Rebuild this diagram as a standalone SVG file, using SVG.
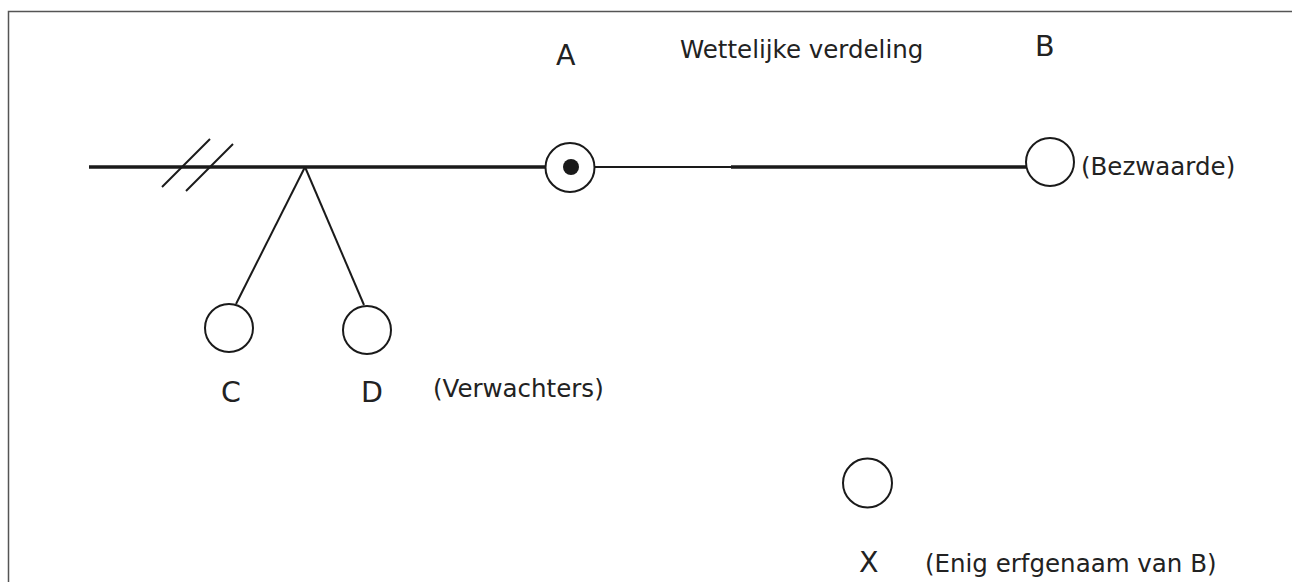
<svg xmlns="http://www.w3.org/2000/svg" width="1292" height="582" viewBox="0 0 1292 582">
<style>
.frame{fill:none;stroke:#555;stroke-width:1.5}
.thick{stroke:#1a1a1a;stroke-width:3.4;fill:none}
.thin{stroke:#1a1a1a;stroke-width:2;fill:none}
.node{fill:#fff;stroke:#1a1a1a;stroke-width:2}
.lbl{font-family:"DejaVu Sans",Verdana,sans-serif;font-size:28.5px;fill:#222}
.txt{font-family:"DejaVu Sans",Verdana,sans-serif;font-size:24.5px;fill:#222}
</style>
<rect x="0" y="0" width="1292" height="582" fill="#fff"/>
<path class="frame" d="M8.5,600 V11.5 H1300"/>
<g id="connectors">
<line class="thick" x1="89" y1="167" x2="546" y2="167"/>
<line class="thin" x1="162" y1="187" x2="210" y2="139"/>
<line class="thin" x1="186" y1="191" x2="233" y2="144"/>
<line class="thin" x1="305" y1="167" x2="236" y2="304"/>
<line class="thin" x1="305" y1="167" x2="364" y2="305"/>
<line class="thin" x1="594" y1="167" x2="732" y2="167"/>
<line class="thick" x1="731" y1="167" x2="1027" y2="167"/>
</g>
<g id="node-A">
<ellipse class="node" cx="570" cy="167.5" rx="24.5" ry="24.5"/>
<circle cx="571" cy="167" r="8" fill="#1a1a1a"/>
<text class="lbl" x="556" y="65">A</text>
</g>
<g id="title">
<text class="txt" x="680" y="58">Wettelijke verdeling</text>
</g>
<g id="node-B">
<ellipse class="node" cx="1050" cy="162" rx="24" ry="24"/>
<text class="lbl" x="1035" y="56">B</text>
<text class="txt" x="1081" y="175">(Bezwaarde)</text>
</g>
<g id="node-C">
<circle class="node" cx="229" cy="328" r="24"/>
<text class="lbl" x="221" y="402">C</text>
</g>
<g id="node-D">
<circle class="node" cx="367" cy="330" r="24"/>
<text class="lbl" x="361" y="402">D</text>
<text class="txt" x="433" y="397">(Verwachters)</text>
</g>
<g id="node-X">
<circle class="node" cx="867.5" cy="483" r="24.5"/>
<text class="lbl" x="859" y="572">X</text>
<text class="txt" x="925" y="572">(Enig erfgenaam van B)</text>
</g>
</svg>
